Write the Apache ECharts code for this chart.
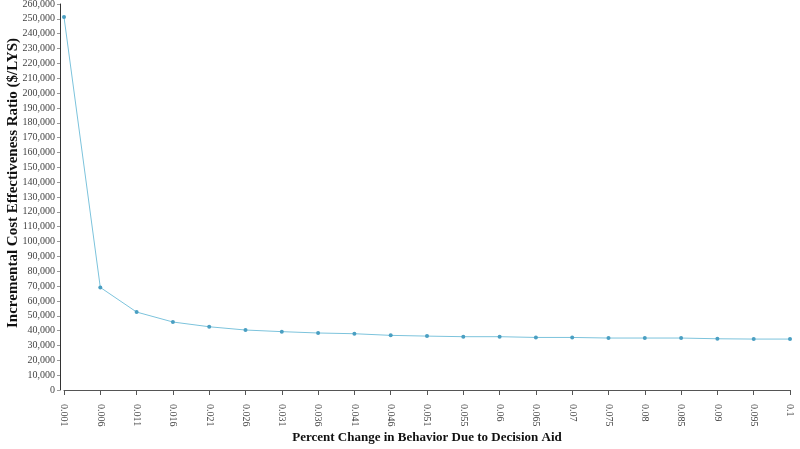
<!DOCTYPE html>
<html>
<head>
<meta charset="utf-8">
<script src="https://cdn.jsdelivr.net/npm/echarts@6/dist/echarts.min.js"></script>
<style>
  html, body { margin: 0; padding: 0; background: #fff; }
  #chart { width: 800px; height: 449px; }
</style>
</head>
<body>
<div id="chart"></div>
<script>
// percent change in behaviour (x categories)
var categories = ['0.001', '0.006', '0.011', '0.016', '0.021', '0.026', '0.031', '0.036', '0.041', '0.046',
  '0.051', '0.055', '0.06', '0.065', '0.07', '0.075', '0.08', '0.085', '0.09', '0.095', '0.1'];
// ICER values ($/LYS)
var icerValues = [251200, 69100, 52500, 45800, 42600, 40400, 39300, 38400, 37900, 36800,
  36300, 35900, 35900, 35400, 35400, 35000, 35000, 35000, 34500, 34300, 34300];

var chart = echarts.init(document.getElementById('chart'));
var serif = '"Liberation Serif", "DejaVu Serif", serif';

chart.setOption({
  animation: false,
  grid: { left: 64, right: 10, top: 4, bottom: 59, containLabel: false, outerBoundsMode: 'none' },
  xAxis: {
    type: 'category',
    data: categories,
    boundaryGap: false,
    offset: 6,
    name: 'Percent Change in Behavior Due to Decision Aid',
    nameLocation: 'middle',
    nameGap: 35,
    nameMoveOverlap: false,
    nameTextStyle: { fontFamily: serif, fontWeight: 'bold', fontSize: 13, color: '#111' },
    axisLine: { lineStyle: { color: '#555', width: 1 } },
    axisTick: { alignWithLabel: true, length: 5, lineStyle: { color: '#555' } },
    axisLabel: { rotate: -90, fontFamily: serif, fontSize: 10, color: '#444', interval: 0, margin: 8 },
    splitLine: { show: false }
  },
  yAxis: {
    type: 'value',
    min: 0,
    max: 260000,
    interval: 10000,
    offset: 4,
    name: 'Incremental Cost Effectiveness Ratio ($/LYS)',
    nameLocation: 'middle',
    nameGap: 39,
    nameMoveOverlap: false,
    nameTextStyle: { fontFamily: serif, fontWeight: 'bold', fontSize: 15, color: '#111', padding: [0, 0, 0, 28] },
    axisLine: { show: true, lineStyle: { color: '#333', width: 1 } },
    axisTick: { show: true, length: 3, lineStyle: { color: '#999' } },
    axisLabel: {
      fontFamily: serif, fontSize: 10, color: '#444', margin: 5,
      formatter: function (v) { return v.toLocaleString('en-US'); }
    },
    splitLine: { show: false }
  },
  series: [{
    name: 'ICER',
    type: 'line',
    data: icerValues,
    symbol: 'circle',
    symbolSize: 4,
    lineStyle: { color: '#7cc3dc', width: 1 },
    itemStyle: { color: '#4a9fc2' }
  }]
});
</script>
</body>
</html>
